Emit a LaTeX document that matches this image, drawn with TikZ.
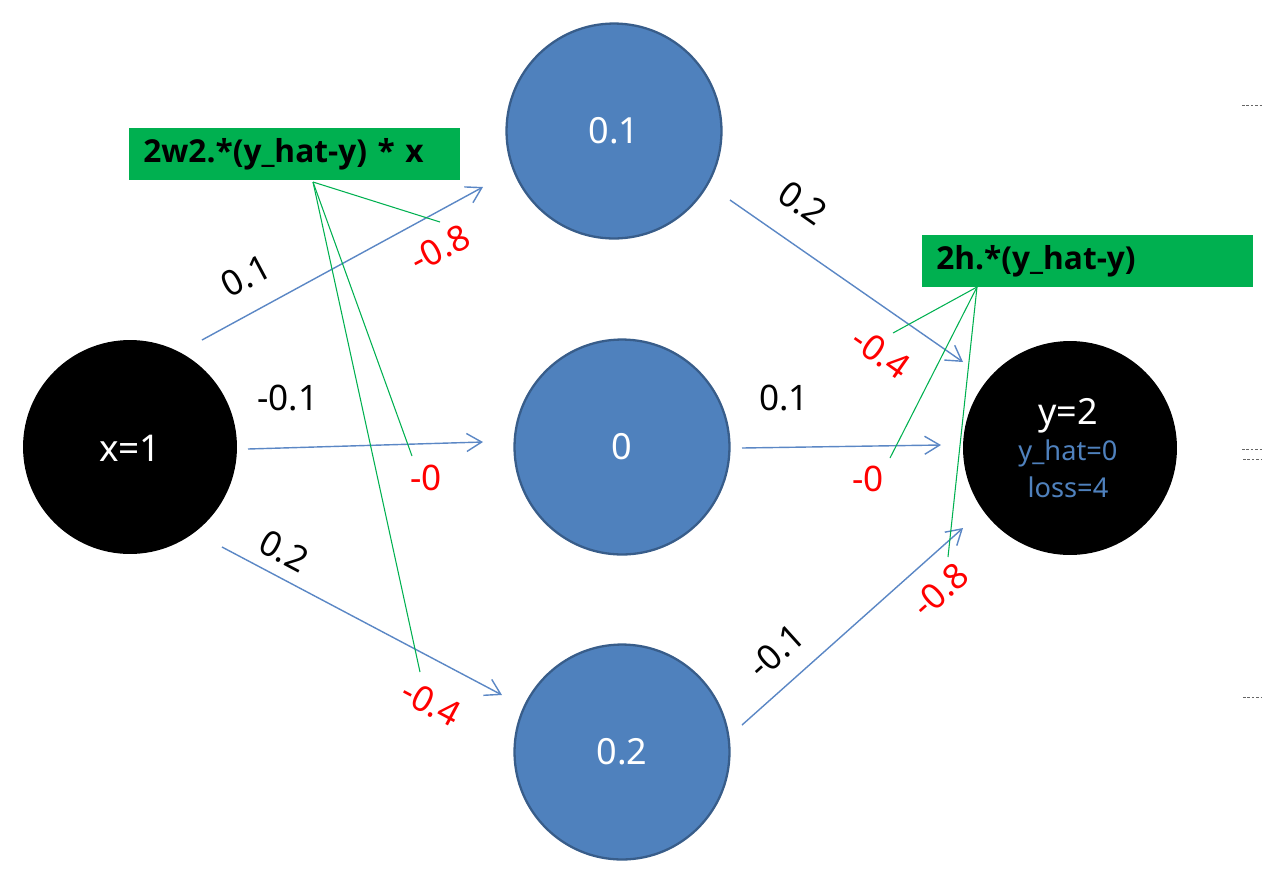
\documentclass[tikz,border=0pt]{standalone}
\usepackage{fontspec}
\setmainfont{Noto Sans}
\newfontfamily\gboldfont{Open Sans}[BoldFont={* Bold}]
\usetikzlibrary{arrows.meta}
\definecolor{nblue}{HTML}{4F81BD}
\definecolor{nborder}{HTML}{385D8A}
\definecolor{gboxc}{HTML}{00B050}
\definecolor{arrc}{HTML}{5B87C5}
\begin{document}
\begin{tikzpicture}[x=0.02cm,y=-0.02cm,
  bnode/.style={circle,fill=nblue,draw=nborder,line width=1.3pt,minimum size=4.3cm,inner sep=0pt,text=white,font=\fontsize{20.5}{24}\selectfont},
  knode/.style={circle,fill=black,minimum size=4.28cm,inner sep=0pt},
  arr/.style={draw=arrc,line width=0.8pt,-{Straight Barb[length=0.3cm,width=0.36cm,line width=0.8pt]}},
  wlab/.style={font=\fontsize{20}{24}\selectfont,text=black,inner sep=0pt},
  rlab/.style={font=\fontsize{20}{24}\selectfont,text=red,inner sep=0pt},
  gboxs/.style={fill=gboxc,anchor=north west,minimum width=6.62cm,minimum height=1.04cm,text width=6.06cm,inner xsep=0.28cm,inner ysep=0pt,align=left,font=\gboldfont\bfseries\fontsize{18}{20}\selectfont},
  gline/.style={draw=gboxc,line width=0.6pt},
  edge/.style={draw=gray!80!black,line width=0.5pt,dash pattern=on 1.5pt off 1pt}]
\useasboundingbox (0,0) rectangle (1262,887);
% nodes
\node[knode] (x) at (130,447) {};
\node[text=white,font=\fontsize{21}{24}\selectfont] (xt) at (130,448) {x=1};
\node[bnode] (h1) at (614,131) {0.1};
\node[bnode] (h2) at (622,447) {0};
\node[bnode] (h3) at (622,752) {0.2};
\node[knode] (y) at (1070,448) {};
\node[text=white,font=\fontsize{20.5}{24}\selectfont] (yt) at (1068,416) {y=2};
\node[text=nblue,font=\fontsize{15.5}{18}\selectfont] (yh) at (1068,453) {y\_hat=0};
\node[text=nblue,font=\fontsize{15.5}{18}\selectfont] (yl) at (1068,487) {loss=4};
% arrow ends
\coordinate (a1s) at (202,340); \coordinate (a1e) at (483,187);
\coordinate (a2s) at (248,449); \coordinate (a2e) at (483,442);
\coordinate (a3s) at (222,547); \coordinate (a3e) at (502,695);
\coordinate (b1s) at (730,200); \coordinate (b1e) at (963,362);
\coordinate (b2s) at (742,448); \coordinate (b2e) at (941,445);
\coordinate (b3s) at (742,725); \coordinate (b3e) at (963,528);
\draw[arr] (a1s) -- (a1e);
\draw[arr] (a2s) -- (a2e);
\draw[arr] (a3s) -- (a3e);
\draw[arr] (b1s) -- (b1e);
\draw[arr] (b2s) -- (b2e);
\draw[arr] (b3s) -- (b3e);
% weight labels
\node[wlab,rotate=28] (w1) at (246,276) {0.1};
\node[wlab] (w2) at (288,398) {-0.1};
\node[wlab,rotate=-28] (w3) at (284,551) {0.2};
\node[wlab,rotate=-35] (v1) at (803,203) {0.2};
\node[wlab] (v2) at (784,398) {0.1};
\node[wlab,rotate=42] (v3) at (776,651) {-0.1};
% gradient labels
\node[rlab,rotate=28] (r1) at (440,248) {-0.8};
\node[rlab] (r2) at (426,478) {-0};
\node[rlab,rotate=-28] (r3) at (431,703) {-0.4};
\node[rlab,rotate=-35] (s1) at (881,353) {-0.4};
\node[rlab] (s2) at (868,479) {-0};
\node[rlab,rotate=42] (s3) at (940,590) {-0.8};
% green boxes
\node[gboxs] (g1) at (129,128) {2w2.*(y\_hat-y) * x};
\node[gboxs] (g2) at (922,235) {2h.*(y\_hat-y)};
\coordinate (g1p) at (313,182);
\coordinate (g2p) at (977,287);
\coordinate (e1) at (440,222); \coordinate (e2) at (412,456); \coordinate (e3) at (420,672);
\coordinate (f1) at (893,333); \coordinate (f2) at (890,458); \coordinate (f3) at (948,557);
\draw[gline] (g1p) -- (e1);
\draw[gline] (g1p) -- (e2);
\draw[gline] (g1p) -- (e3);
\draw[gline] (g2p) -- (f1);
\draw[gline] (g2p) -- (f2);
\draw[gline] (g2p) -- (f3);
% right edge marks
\coordinate (m1a) at (1242,105); \coordinate (m1b) at (1262,105);
\coordinate (m2a) at (1242,449); \coordinate (m2b) at (1262,449);
\coordinate (m3a) at (1243,459); \coordinate (m3b) at (1262,459);
\coordinate (m4a) at (1243,697); \coordinate (m4b) at (1262,697);
\draw[edge] (m1a) -- (m1b);
\draw[edge] (m2a) -- (m2b);
\draw[edge] (m3a) -- (m3b);
\draw[edge] (m4a) -- (m4b);
\end{tikzpicture}
\end{document}
